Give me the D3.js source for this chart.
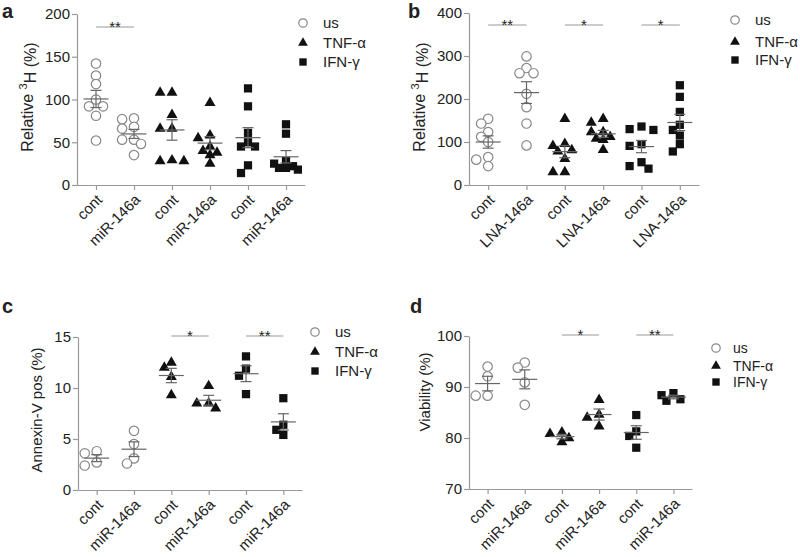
<!DOCTYPE html>
<html>
<head>
<meta charset="UTF-8">
<title>miR-146a panels</title>
<script src="https://cdn.jsdelivr.net/npm/d3@7/dist/d3.min.js"></script>
<style>
  body { margin: 0; background: #fff; }
  svg text { font-family: "Liberation Sans", Arial, sans-serif; fill: #222; }
  .axis path, .axis line { stroke: #999; stroke-width: 1.2; }
  .axis text { font-size: 15px; fill: #222; }
</style>
</head>
<body>
<svg id="svg"></svg>
<script>
var WIDTH = 800, HEIGHT = 557;

// ---- data ----
var legendLabels = ["us", "TNF-\u03b1", "IFN-\u03b3"];
var shapeOf = ["circle", "circle", "triangle", "triangle", "square", "square"];

var labelsMir = ["cont", "miR-146a", "cont", "miR-146a", "cont", "miR-146a"];
var labelsLna = ["cont", "LNA-146a", "cont", "LNA-146a", "cont", "LNA-146a"];

// a: relative 3H (%)
var aValues = [
  [142, 128, 118, 100, 92, 92, 81, 52],
  [78, 77, 68, 66, 53, 53, 48, 35],
  [108, 108, 82, 66, 66, 29, 28, 28],
  [96, 58, 55, 45, 40, 38, 35, 25],
  [113, 92, 61, 50, 45, 45, 23, 14],
  [71, 60, 28, 25, 22, 20, 20, 18]
];
var aTicks = [0, 50, 100, 150, 200];
var aSig = [{from: 0, to: 1, text: "**"}];

// b: relative 3H (%)
var bValues = [
  [154, 143, 123, 112, 100, 65, 59, 44],
  [299, 272, 260, 260, 212, 181, 143, 92],
  [154, 96, 91, 81, 78, 61, 30, 30],
  [154, 145, 123, 123, 112, 108, 105, 82],
  [136, 130, 128, 95, 91, 53, 44, 38],
  [232, 205, 170, 140, 128, 115, 95, 78]
];
var bTicks = [0, 100, 200, 300, 400];
var bSig = [{from: 0, to: 1, text: "**"}, {from: 2, to: 3, text: "*"}, {from: 4, to: 5, text: "*"}];

// c: Annexin-V pos (%)
var cValues = [
  [3.8, 3.6, 2.7, 2.4],
  [5.8, 4.5, 3.1, 2.6],
  [12.5, 12.0, 11.1, 9.3],
  [10.2, 8.5, 8.5, 8.0],
  [13.1, 11.9, 11.2, 9.4],
  [9.0, 6.4, 5.9, 5.4]
];
var cTicks = [0, 5, 10, 15];
var cSig = [{from: 2, to: 3, text: "*"}, {from: 4, to: 5, text: "**"}];

// d: Viability (%)
var dValues = [
  [94.0, 92.1, 88.3, 88.3],
  [94.8, 93.8, 90.9, 86.5],
  [81.1, 80.8, 80.0, 79.2],
  [87.5, 84.6, 84.0, 82.3],
  [84.5, 81.3, 80.4, 78.1],
  [88.8, 88.4, 87.6, 87.3]
];
var dTicks = [70, 80, 90, 100];
var dSig = [{from: 2, to: 3, text: "*"}, {from: 4, to: 5, text: "**"}];

// ---- layout ----
var svg = d3.select("#svg").attr("width", WIDTH).attr("height", HEIGHT);
svg.append("rect").attr("width", WIDTH).attr("height", HEIGHT).attr("fill", "#fff");

var symbolType = {circle: d3.symbolCircle, triangle: d3.symbolTriangle, square: d3.symbolSquare};
var symbolSize = {circle: 70, triangle: 52, square: 68};

function drawMark(g, shape, x, y, scale) {
  var s = scale || 1;
  g.append("path")
    .attr("d", d3.symbol().type(symbolType[shape]).size(symbolSize[shape] * s)())
    .attr("transform", "translate(" + x + "," + y + ")")
    .attr("fill", shape === "circle" ? "#fff" : "#111")
    .attr("stroke", shape === "circle" ? "#888" : "none")
    .attr("stroke-width", 1.2);
}

// small swarm: keep y, nudge x sideways, allow some overlap
function swarm(ys, step, minD) {
  var placed = [];
  var offs = [0, -1, 1, -1.7, 1.7];
  ys.forEach(function(y) {
    var best = 0, bestD = -1;
    for (var k = 0; k < offs.length; k++) {
      var ox = offs[k] * step;
      var dmin = d3.min(placed, function(p) { return Math.hypot(p[0] - ox, p[1] - y); });
      if (dmin === undefined) dmin = Infinity;
      if (dmin >= minD) { best = ox; bestD = dmin; break; }
      if (dmin > bestD) { bestD = dmin; best = ox; }
    }
    placed.push([best, y]);
  });
  return placed;
}

function panel(cfg) {
  var g = svg.append("g");

  var x = d3.scalePoint().domain(d3.range(6)).range([cfg.x0, cfg.x1]).padding(0.5);
  var y = d3.scaleLinear().domain(cfg.domain).range([cfg.yBot, cfg.yTop]);

  g.append("g").attr("class", "axis")
    .attr("transform", "translate(" + cfg.x0 + ",0)")
    .call(d3.axisLeft(y).tickValues(cfg.ticks).tickSize(5).tickSizeOuter(0).tickPadding(2));

  var xa = g.append("g").attr("class", "axis")
    .attr("transform", "translate(0," + cfg.yBot + ")")
    .call(d3.axisBottom(x).tickSize(5).tickSizeOuter(0).tickFormat(function(i) { return cfg.labels[i]; }));
  xa.selectAll(".tick text")
    .attr("x", 0).attr("y", 0).attr("dy", "0.35em")
    .attr("text-anchor", "end")
    .attr("transform", "translate(3,12) rotate(-45)");

  // points, mean and SEM
  cfg.values.forEach(function(vals, i) {
    var cx = x(i);
    var pos = swarm(vals.map(y), 7, 8);
    pos.forEach(function(p) { drawMark(g, shapeOf[i], cx + p[0], p[1]); });

    var m = d3.mean(vals);
    var sem = d3.deviation(vals) / Math.sqrt(vals.length);
    var lc = "#666";
    g.append("line").attr("x1", cx - 12.5).attr("x2", cx + 12.5)
      .attr("y1", y(m)).attr("y2", y(m)).attr("stroke", lc).attr("stroke-width", 1.2);
    g.append("line").attr("x1", cx).attr("x2", cx)
      .attr("y1", y(m - sem)).attr("y2", y(m + sem)).attr("stroke", lc).attr("stroke-width", 1.2);
    [m - sem, m + sem].forEach(function(v) {
      g.append("line").attr("x1", cx - 5.5).attr("x2", cx + 5.5)
        .attr("y1", y(v)).attr("y2", y(v)).attr("stroke", lc).attr("stroke-width", 1.2);
    });
  });

  // significance bars
  cfg.sig.forEach(function(s) {
    g.append("line").attr("x1", x(s.from)).attr("x2", x(s.to))
      .attr("y1", cfg.sigY).attr("y2", cfg.sigY).attr("stroke", "#999").attr("stroke-width", 1.2);
    g.append("text").attr("x", (x(s.from) + x(s.to)) / 2).attr("y", cfg.sigY + 5)
      .attr("text-anchor", "middle").style("font-size", "15px").text(s.text);
  });

  // y label
  var yl = g.append("text")
    .attr("transform", "translate(" + cfg.ylX + "," + cfg.ylY + ") rotate(-90)")
    .attr("text-anchor", "middle").style("font-size", cfg.ylSize + "px");
  if (cfg.ylabel === "3H") {
    yl.append("tspan").text("Relative ");
    yl.append("tspan").attr("dy", "-0.55em").style("font-size", "11px").text("3");
    yl.append("tspan").attr("dy", "0.55em").text("H  (%)");
  } else {
    yl.text(cfg.ylabel);
  }

  // panel letter
  g.append("text").attr("x", cfg.letterX).attr("y", cfg.letterY)
    .style("font-size", "20px").style("font-weight", "bold").text(cfg.letter);

  // legend
  legendLabels.forEach(function(t, k) {
    var ly = cfg.legY[k];
    drawMark(g, ["circle", "triangle", "square"][k], cfg.legX, ly, 0.8);
    g.append("text").attr("x", cfg.legX + cfg.legGap).attr("y", ly).attr("dy", "0.35em")
      .style("font-size", cfg.legSize + "px").text(t);
  });
}

panel({letter: "a", letterX: 2, letterY: 18, x0: 77, x1: 305, yTop: 14, yBot: 185,
  domain: [0, 200], ticks: aTicks, labels: labelsMir, values: aValues, sig: aSig, sigY: 27,
  ylabel: "3H", ylX: 33, ylY: 97, ylSize: 16,
  legX: 303, legY: [23, 43, 62], legGap: 20, legSize: 15});

panel({letter: "b", letterX: 408, letterY: 18, x0: 469, x1: 699, yTop: 13, yBot: 185,
  domain: [0, 400], ticks: bTicks, labels: labelsLna, values: bValues, sig: bSig, sigY: 25,
  ylabel: "3H", ylX: 425, ylY: 97, ylSize: 16,
  legX: 735, legY: [20, 42, 60], legGap: 20, legSize: 15});

panel({letter: "c", letterX: 2, letterY: 313, x0: 78, x1: 302, yTop: 337, yBot: 490,
  domain: [0, 15], ticks: cTicks, labels: labelsMir, values: cValues, sig: cSig, sigY: 336,
  ylabel: "Annexin-V pos (%)", ylX: 42, ylY: 410, ylSize: 15,
  legX: 315, legY: [332, 352, 371], legGap: 20, legSize: 15});

panel({letter: "d", letterX: 410, letterY: 313, x0: 469, x1: 692, yTop: 336, yBot: 489,
  domain: [70, 100], ticks: dTicks, labels: labelsMir, values: dValues, sig: dSig, sigY: 335,
  ylabel: "Viability (%)", ylX: 430, ylY: 392, ylSize: 15,
  legX: 716, legY: [348, 366, 382], legGap: 17, legSize: 14});
</script>
</body>
</html>
